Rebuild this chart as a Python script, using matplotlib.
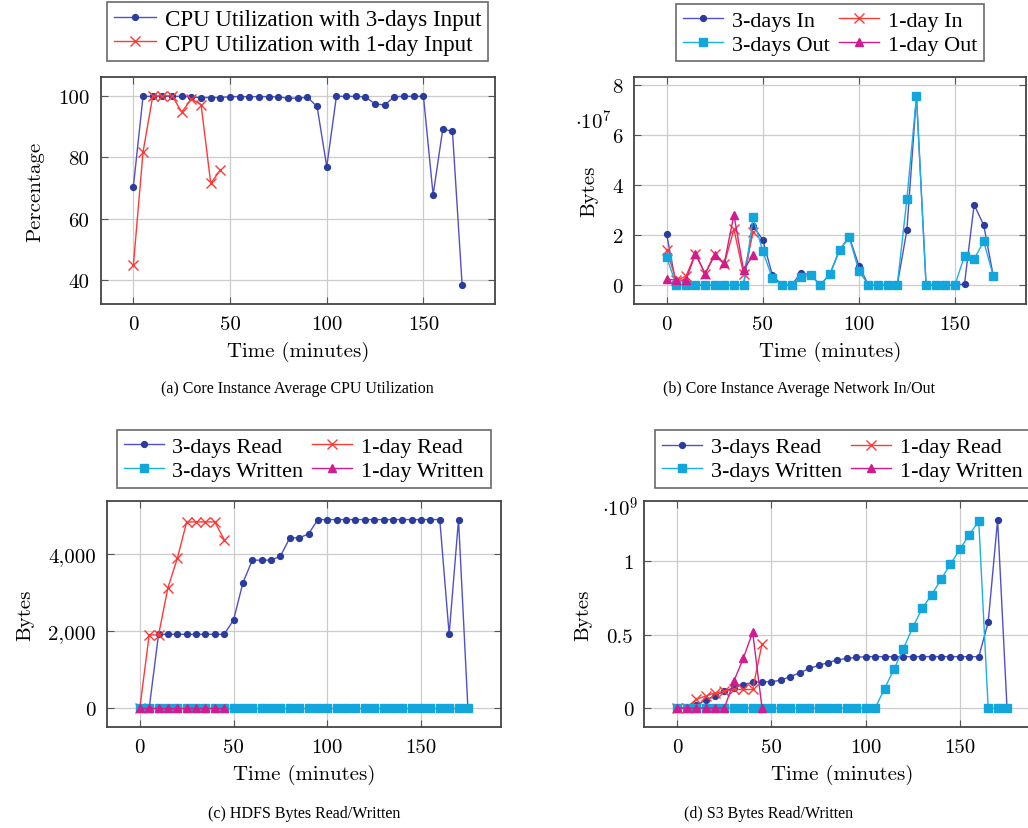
import numpy as np
import matplotlib
matplotlib.use("Agg")
import matplotlib.pyplot as plt
from matplotlib.ticker import FuncFormatter, FixedLocator

plt.rcParams['mathtext.fontset'] = 'cm'
plt.rcParams['axes.unicode_minus'] = False

# ---------------- data ----------------
time_3days = np.arange(0, 175, 5)      # 0..170 (panels a, b)
time_3days_io = np.arange(0, 180, 5)   # 0..175 (panels c, d)
time_1day = np.arange(0, 50, 5)        # 0..45

cpu_3days = [70.4, 99.8, 99.8, 99.8, 99.8, 99.8, 99.6, 99.4, 99.4, 99.4,
             99.7, 99.7, 99.7, 99.7, 99.7, 99.6, 99.2, 99.2, 99.5, 96.5,
             76.9, 99.8, 99.8, 99.8, 99.6, 97.3, 97.0, 99.7, 99.8, 99.8,
             99.8, 67.7, 89.2, 88.4, 38.4]
cpu_1day = [44.8, 81.7, 99.8, 100.0, 100.0, 94.7, 98.9, 97.1, 71.5, 75.8]

# network, units of 1e7 bytes
net_in_3days = [2.02, 0, 0, 0, 0, 0, 0, 0, 0, 2.36,
                1.81, 0.40, 0, 0, 0.50, 0.40, 0, 0.45, 1.40, 1.93,
                0.78, 0, 0, 0, 0, 2.19, 7.54, 0, 0, 0,
                0, 0.05, 3.21, 2.39, 0.36]
net_out_3days = [1.11, 0, 0, 0, 0, 0, 0, 0, 0, 2.70,
                 1.35, 0.28, 0, 0, 0.32, 0.40, 0, 0.45, 1.40, 1.90,
                 0.58, 0, 0, 0, 0, 3.42, 7.54, 0, 0, 0,
                 0, 1.17, 1.04, 1.74, 0.36]
net_in_1day = [1.40, 0.19, 0.35, 1.25, 0.45, 1.25, 0.85, 2.23, 0.45, 2.10]
net_out_1day = [0.23, 0.20, 0.20, 1.25, 0.45, 1.20, 0.88, 2.80, 0.60, 1.20]

# HDFS bytes
hdfs_read_3days = [0, 0, 1914, 1914, 1914, 1914, 1914, 1914, 1914, 1914,
                   2284, 3250, 3836, 3836, 3836, 3939, 4413, 4413, 4517, 4888,
                   4888, 4888, 4888, 4888, 4888, 4888, 4888, 4888, 4888, 4888,
                   4888, 4888, 4888, 1914, 4888, 0]
hdfs_read_1day = [0, 1897, 1897, 3120, 3879, 4827, 4827, 4827, 4827, 4370]
hdfs_written_3days = [0] * 36
hdfs_written_1day = [0] * 10

# S3 bytes, units of 1e9
s3_read_3days = [0, 0, 0.02, 0.055, 0.085, 0.115, 0.14, 0.16, 0.175, 0.18,
                 0.18, 0.19, 0.215, 0.24, 0.27, 0.29, 0.31, 0.328, 0.338, 0.345,
                 0.35, 0.35, 0.35, 0.35, 0.35, 0.35, 0.35, 0.35, 0.35, 0.35,
                 0.35, 0.35, 0.35, 0.583, 1.28, 0]
s3_written_3days = [0] * 22 + [0.133, 0.264, 0.405, 0.55, 0.68, 0.77, 0.876,
                               0.98, 1.08, 1.18, 1.27, 0, 0, 0]
s3_read_1day = [0, 0.004, 0.06, 0.082, 0.104, 0.115, 0.127, 0.127, 0.127, 0.438]
s3_written_1day = [0, 0, 0, 0, 0, 0, 0.182, 0.338, 0.516, 0]

captions = ["(a) Core Instance Average CPU Utilization",
            "(b) Core Instance Average Network In/Out",
            "(c) HDFS Bytes Read/Written",
            "(d) S3 Bytes Read/Written"]

# ---------------- styles ----------------
BLUE_L, BLUE_M = '#5050c8', '#2a3c9e'
RED = '#ff3838'
CYAN_L, CYAN_M = '#1ab0e0', '#12a6dc'
MAG = '#d21c8e'

s3d = dict(color=BLUE_L, lw=1.0, marker='o', ms=4.2, mfc=BLUE_M, mec=BLUE_M)
s1d = dict(color=RED, lw=1.0, marker='x', ms=6.8, mew=1.0)
s3w = dict(color=CYAN_L, lw=1.0, marker='s', ms=5.6, mfc=CYAN_M, mec=CYAN_M)
s1w = dict(color=MAG, lw=1.0, marker='^', ms=5.6, mfc=MAG, mec=MAG)

W, H = 1028, 829
fig = plt.figure(figsize=(W / 100, H / 100), dpi=100)


def make_ax(l, r, t, b):
    return fig.add_axes([l / W, 1 - b / H, (r - l) / W, (b - t) / H])


CM = 'cmr10'


def style(ax, xlim, ylim, yticks):
    ax.set_xlim(*xlim)
    ax.set_ylim(*ylim)
    ax.xaxis.set_major_locator(FixedLocator([0, 50, 100, 150]))
    ax.yaxis.set_major_locator(FixedLocator(yticks))
    ax.grid(True, color='#cccccc', lw=0.9)
    ax.set_axisbelow(True)
    ax.tick_params(direction='in', top=True, right=True, length=5,
                   color='#555555', labelsize=15, pad=8)
    for lab in ax.get_xticklabels() + ax.get_yticklabels():
        lab.set_fontfamily(CM)
    for sp in ax.spines.values():
        sp.set_color('#444444')
        sp.set_linewidth(1.3)
    ax.set_xlabel('Time (minutes)', fontfamily=CM, fontsize=15, labelpad=6)


def legend(ax, handles, labels, ncol, yoff, size=16):
    lg = ax.legend(handles, labels, ncol=ncol, loc='lower center',
                   bbox_to_anchor=(0.5, 1 + yoff),
                   prop={'family': 'Liberation Serif', 'size': size},
                   frameon=True, fancybox=False, edgecolor='#444444',
                   handlelength=1.8, handletextpad=0.4, columnspacing=0.4,
                   borderpad=0.3, labelspacing=0.15, borderaxespad=0)
    lg.get_frame().set_linewidth(1.2)
    return lg


# (a)
ax = make_ax(100.5, 495, 78.3, 305)
h1, = ax.plot(time_3days, cpu_3days, **s3d)
h2, = ax.plot(time_1day, cpu_1day, **s1d)
style(ax, (-17, 187), (32.2, 106.0), [40, 60, 80, 100])
ax.set_ylabel('Percentage', fontfamily=CM, fontsize=15, labelpad=10)
legend(ax, [h1, h2], ['CPU Utilization with 3-days Input',
                      'CPU Utilization with 1-day Input'], 1, 0.07, size=16.6)
ax.text(0.5, -0.37, captions[0], transform=ax.transAxes, ha='center',
        va='center', fontfamily='Liberation Serif', fontsize=11.5)

# (b)
ax = make_ax(634, 1026, 78.3, 305)
h1, = ax.plot(time_3days, net_in_3days, **s3d)
h2, = ax.plot(time_1day, net_in_1day, **s1d)
h3, = ax.plot(time_3days, net_out_3days, **s3w)
h4, = ax.plot(time_1day, net_out_1day, **s1w)
style(ax, (-17, 187), (-0.754, 8.29), [0, 2, 4, 6, 8])
ax.set_ylabel('Bytes', fontfamily=CM, fontsize=15, labelpad=10)
ax.text(-0.105, 0.81, r'$\cdot 10^{7}$', transform=ax.transAxes,
        ha='center', va='center', fontsize=15)
legend(ax, [h1, h3, h2, h4], ['3-days In', '3-days Out', '1-day In',
                              '1-day Out'], 2, 0.07)
ax.text(0.42, -0.37, captions[1], transform=ax.transAxes, ha='center',
        va='center', fontfamily='Liberation Serif', fontsize=11.5)

# (c)
ax = make_ax(107, 500.7, 501.7, 728)
h1, = ax.plot(time_3days_io, hdfs_read_3days, **s3d)
h2, = ax.plot(time_1day, hdfs_read_1day, **s1d)
h3, = ax.plot(time_3days_io, hdfs_written_3days, **s3w)
h4, = ax.plot(time_1day, hdfs_written_1day, **s1w)
style(ax, (-17.5, 192.5), (-489, 5377), [0, 2000, 4000])
ax.yaxis.set_major_formatter(FuncFormatter(lambda v, p: f'{int(v):,}'))
for lab in ax.get_yticklabels():
    lab.set_fontfamily(CM)
ax.set_ylabel('Bytes', fontfamily=CM, fontsize=15, labelpad=10)
legend(ax, [h1, h3, h2, h4], ['3-days Read', '3-days Written', '1-day Read',
                              '1-day Written'], 2, 0.058)
ax.text(0.5, -0.38, captions[2], transform=ax.transAxes, ha='center',
        va='center', fontfamily='Liberation Serif', fontsize=11.5)

# (d)
ax = make_ax(644.3, 1040, 502, 728)
h1, = ax.plot(time_3days_io, s3_read_3days, **s3d)
h2, = ax.plot(time_1day, s3_read_1day, **s1d)
h3, = ax.plot(time_3days_io, s3_written_3days, **s3w)
h4, = ax.plot(time_1day, s3_written_1day, **s1w)
style(ax, (-17.5, 192.5), (-0.128, 1.408), [0, 0.5, 1])
ax.yaxis.set_major_formatter(FuncFormatter(lambda v, p: f'{v:g}'))
for lab in ax.get_yticklabels():
    lab.set_fontfamily(CM)
ax.set_ylabel('Bytes', fontfamily=CM, fontsize=15, labelpad=10)
ax.text(-0.06, 0.97, r'$\cdot 10^{9}$', transform=ax.transAxes,
        ha='center', va='center', fontsize=15)
legend(ax, [h1, h3, h2, h4], ['3-days Read', '3-days Written', '1-day Read',
                              '1-day Written'], 2, 0.058)
ax.text(0.315, -0.38, captions[3], transform=ax.transAxes, ha='center',
        va='center', fontfamily='Liberation Serif', fontsize=11.5)

fig.savefig('out.png', dpi=100)
